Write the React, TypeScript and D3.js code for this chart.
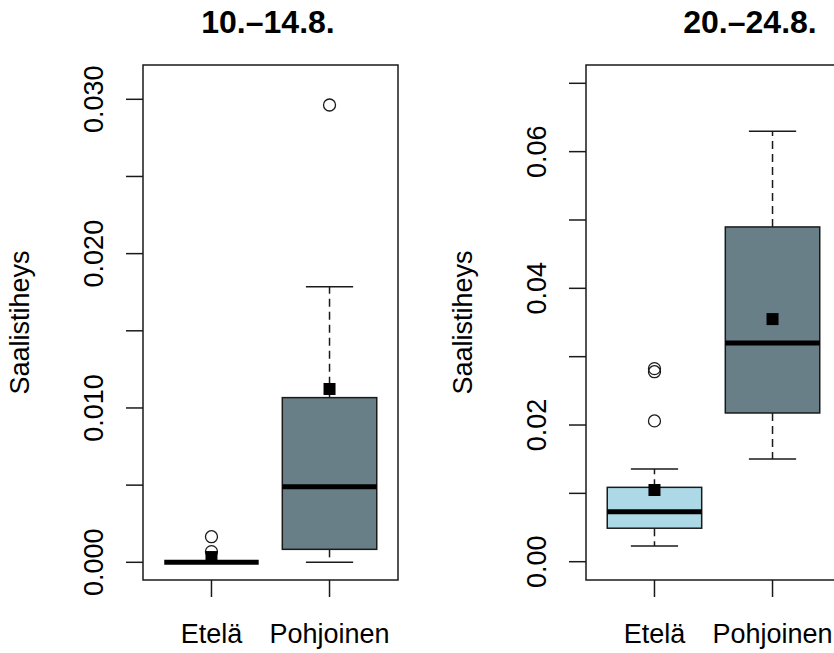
import React from "react";
import * as d3 from "d3";

// ---- data ----
const groups = ["Etelä", "Pohjoinen"];
const panelTitles = ["10.–14.8.", "20.–24.8."];
const yLabel = "Saalistiheys";

// panel 1 (10.–14.8.)
const p1Lower = [0, 0];
const p1Q1 = [0, 0.00084];
const p1Median = [0, 0.0049];
const p1Q3 = [0, 0.01067];
const p1Upper = [0, 0.01786];
const p1Mean = [0.00034, 0.01123];
const p1OutEtela = [0.00166, 0.00069];
const p1OutPohjoinen = [0.02963];
const p1Ticks = [0, 0.005, 0.01, 0.015, 0.02, 0.025, 0.03];
const p1LabelTicks = [0, 0.01, 0.02, 0.03];
const p1TickFormat = ".3f";

// panel 2 (20.–24.8.)
const p2Lower = [0.00229, 0.01503];
const p2Q1 = [0.0049, 0.02176];
const p2Median = [0.00732, 0.032];
const p2Q3 = [0.01088, 0.04898];
const p2Upper = [0.01356, 0.063];
const p2Mean = [0.01049, 0.0355];
const p2OutEtela = [0.0206, 0.0278, 0.02825];
const p2OutPohjoinen: number[] = [];
const p2Ticks = [0, 0.01, 0.02, 0.03, 0.04, 0.05, 0.06, 0.07];
const p2LabelTicks = [0, 0.02, 0.04, 0.06];
const p2TickFormat = ".2f";

const fills = ["#ADD8E6", "#687F88"];

// ---- layout ----
const W = 834;
const H = 653;
const FONT = "'Liberation Sans', Arial, sans-serif";
const frameTop = 65;
const frameBottom = 580;
const frameWidth = 255;

type Panel = {
  title: string;
  titleX: number;
  left: number;
  yZeroPx: number;
  yTopPx: number;
  yTopVal: number;
  lower: number[];
  q1: number[];
  median: number[];
  q3: number[];
  upper: number[];
  mean: number[];
  outliers: number[][];
  ticks: number[];
  labelTicks: number[];
  fmt: string;
};

const panels: Panel[] = [
  {
    title: panelTitles[0], titleX: 268, left: 143, yZeroPx: 562.3, yTopPx: 99.3, yTopVal: 0.03,
    lower: p1Lower, q1: p1Q1, median: p1Median, q3: p1Q3, upper: p1Upper, mean: p1Mean,
    outliers: [p1OutEtela, p1OutPohjoinen], ticks: p1Ticks, labelTicks: p1LabelTicks, fmt: p1TickFormat,
  },
  {
    title: panelTitles[1], titleX: 750, left: 586, yZeroPx: 561.7, yTopPx: 83.3, yTopVal: 0.07,
    lower: p2Lower, q1: p2Q1, median: p2Median, q3: p2Q3, upper: p2Upper, mean: p2Mean,
    outliers: [p2OutEtela, p2OutPohjoinen], ticks: p2Ticks, labelTicks: p2LabelTicks, fmt: p2TickFormat,
  },
];

function BoxPanel({ p }: { p: Panel }) {
  const x = d3.scaleLinear().domain([0.42, 2.58]).range([p.left, p.left + frameWidth]);
  const y = d3.scaleLinear().domain([0, p.yTopVal]).range([p.yZeroPx, p.yTopPx]);
  const fmt = d3.format(p.fmt);
  const boxW = x(1.4) - x(0.6);
  const capW = boxW / 2;
  const tickLen = 17;
  const stroke = "#1a1a1a";
  return (
    <g>
      <text x={p.titleX} y={33} textAnchor="middle" fontFamily={FONT} fontWeight="bold" fontSize={32} fill="#000">
        {p.title}
      </text>
      {/* y axis label */}
      <text
        transform={`translate(${p.left - 114},${(frameTop + frameBottom) / 2}) rotate(-90)`}
        textAnchor="middle" fontFamily={FONT} fontSize={27} fill="#000"
      >
        {yLabel}
      </text>
      {/* y ticks */}
      {p.ticks.map((t, i) => (
        <line key={"yt" + i} x1={p.left - tickLen} x2={p.left} y1={y(t)} y2={y(t)} stroke={stroke} strokeWidth={1.5} />
      ))}
      {p.labelTicks.map((t, i) => (
        <text key={"yl" + i}
          transform={`translate(${p.left - 40},${y(t)}) rotate(-90)`}
          textAnchor="middle" fontFamily={FONT} fontSize={27} fill="#000"
        >
          {fmt(t)}
        </text>
      ))}
      {/* x ticks */}
      {groups.map((g, i) => (
        <g key={"xt" + i}>
          <line x1={x(i + 1)} x2={x(i + 1)} y1={frameBottom} y2={frameBottom + tickLen} stroke={stroke} strokeWidth={1.5} />
          <text x={x(i + 1)} y={643} textAnchor="middle" fontFamily={FONT} fontSize={27} fill="#000">{g}</text>
        </g>
      ))}
      {/* boxes */}
      {groups.map((g, i) => {
        const cx = x(i + 1);
        return (
          <g key={"b" + i}>
            <line x1={cx} x2={cx} y1={y(p.q3[i])} y2={y(p.upper[i])} stroke={stroke} strokeWidth={1.5} strokeDasharray="8,5" />
            <line x1={cx} x2={cx} y1={y(p.q1[i])} y2={y(p.lower[i])} stroke={stroke} strokeWidth={1.5} strokeDasharray="8,5" />
            <line x1={cx - capW / 2} x2={cx + capW / 2} y1={y(p.upper[i])} y2={y(p.upper[i])} stroke={stroke} strokeWidth={1.5} />
            <line x1={cx - capW / 2} x2={cx + capW / 2} y1={y(p.lower[i])} y2={y(p.lower[i])} stroke={stroke} strokeWidth={1.5} />
            <rect x={cx - boxW / 2} y={y(p.q3[i])} width={boxW} height={Math.max(0, y(p.q1[i]) - y(p.q3[i]))}
              fill={fills[i]} stroke={stroke} strokeWidth={1.5} />
            <line x1={cx - boxW / 2} x2={cx + boxW / 2} y1={y(p.median[i])} y2={y(p.median[i])} stroke="#000" strokeWidth={5} />
            {p.outliers[i].map((o, j) => (
              <circle key={j} cx={cx} cy={y(o)} r={6} fill="none" stroke={stroke} strokeWidth={1.3} />
            ))}
            <rect x={cx - 6} y={y(p.mean[i]) - 6} width={12} height={12} fill="#000" />
          </g>
        );
      })}
      {/* frame */}
      <rect x={p.left} y={frameTop} width={frameWidth} height={frameBottom - frameTop} fill="none" stroke={stroke} strokeWidth={1.5} />
    </g>
  );
}

export default function App() {
  return (
    <svg width={W} height={H} style={{ position: "absolute", left: 0, top: 0, background: "#fff" }}>
      <rect x={0} y={0} width={W} height={H} fill="#fff" />
      {panels.map((p, i) => (
        <BoxPanel key={i} p={p} />
      ))}
    </svg>
  );
}
